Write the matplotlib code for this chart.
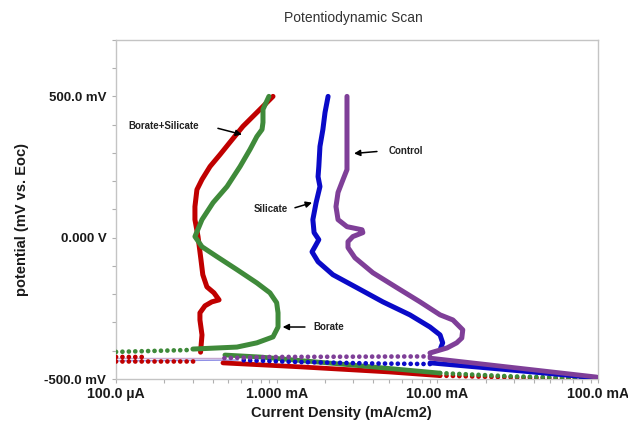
import numpy as np
import matplotlib
matplotlib.use('Agg')
import matplotlib.pyplot as plt
from matplotlib.ticker import FixedLocator, FixedFormatter, MultipleLocator, LogLocator, NullFormatter

plt.rcParams['font.family'] = ['Liberation Sans', 'DejaVu Sans']

nan = np.nan

# corrente em mA, potencial em mV vs. Eoc
# Borate+Silicate (vermelho)
red_an_I = [0.336, 0.343, 0.333, 0.333, 0.358, 0.395, 0.438, 0.407, 0.368, 0.347, 0.338,
            0.324, 0.310, 0.310, 0.319, 0.343, 0.385, 0.444, 0.511, 0.617, 0.753, 0.949]
red_an_E = [-405, -344, -291, -266, -241, -227, -220, -195, -174, -131, -78,
            4, 64, 110, 170, 206, 252, 294, 337, 394, 443, 500]
red_cat_I = [0.463, 1.4, 5.0, 10.4]
red_cat_E = [-443, -457, -475, -488]
red_dot_I = [10.4, 40, 92, nan, 0.10, 0.32, nan, 0.10, 0.15]
red_dot_E = [-488, -496, -500, nan, -438, -438, nan, -422, -422]

# Borate (verde)
green_an_I = [0.301, 0.566, 0.753, 0.949, 1.02, 1.02, 1.00, 0.908, 0.753, 0.566, 0.425, 0.343,
              0.310, 0.343, 0.402, 0.491, 0.592, 0.682, 0.753, 0.811, 0.822, 0.822, 0.895]
green_an_E = [-394, -387, -372, -351, -316, -266, -230, -195, -160, -113, -67, -32,
              4, 64, 124, 181, 252, 312, 358, 383, 408, 454, 500]
green_cat_I = [0.476, 0.787, 3.0, 10.4]
green_cat_E = [-415, -422, -451, -479]
green_dot_I = [10.4, 30, 85, nan, 0.10, 0.301]
green_dot_E = [-479, -491, -496, nan, -404, -397]

# Silicate (azul)
blue_an_I = [10.5, 10.8, 10.4, 9.0, 6.75, 4.58, 3.16, 2.24, 1.81, 1.66, 1.73, 1.83, 1.71,
             1.68, 1.76, 1.86, 1.81, 1.83, 1.86, 1.94, 2.0, 2.09]
blue_an_E = [-390, -372, -344, -316, -273, -227, -177, -131, -85, -50, -32, -7, 18,
             64, 124, 181, 216, 252, 323, 383, 443, 500]
blue_cat_I = [9.0, 24.5, 98.4]
blue_cat_E = [-443, -465, -496]
blue_dot_I = [9.0, 4.0, 1.4, 0.574]
blue_dot_E = [-447, -445, -440, -433]
blue_thin_I = [0.574, 0.10]
blue_thin_E = [-433, -436]

# Control (roxo)
purple_an_I = [9.0, 11.5, 13.2, 14.2, 14.4, 12.5, 10.4, 7.80, 5.61, 3.97, 3.07, 2.78, 2.78,
               2.98, 3.44, 3.40, 2.74, 2.41, 2.34, 2.41, 2.59, 2.74, 2.74, 2.74, 2.74, 2.74]
purple_an_E = [-408, -390, -372, -355, -326, -291, -273, -227, -177, -124, -71, -35, -14,
               4, 18, 28, 39, 64, 110, 160, 206, 241, 323, 383, 443, 500]
purple_cat_I = [9.0, 24.5, 98.4]
purple_cat_E = [-426, -454, -493]
purple_dot_I = [9.0, 0.908, 0.463]
purple_dot_E = [-420, -422, -426]
purple_thin_I = [0.463, 0.10]
purple_thin_E = [-426, -426]

x_ticks = [0.1, 1, 10, 100]
x_tick_labels = ['100.0 µA', '1.000 mA', '10.00 mA', '100.0 mA']
y_ticks = [-500, 0, 500]
y_tick_labels = ['-500.0 mV', '0.000 V', '500.0 mV']

series = [
    ('#c00000', red_an_I, red_an_E, red_cat_I, red_cat_E, red_dot_I, red_dot_E, None, None),
    ('#3f8a3a', green_an_I, green_an_E, green_cat_I, green_cat_E, green_dot_I, green_dot_E, None, None),
    ('#0a0ac8', blue_an_I, blue_an_E, blue_cat_I, blue_cat_E, blue_dot_I, blue_dot_E, blue_thin_I, blue_thin_E),
    ('#7f3f98', purple_an_I, purple_an_E, purple_cat_I, purple_cat_E, purple_dot_I, purple_dot_E, purple_thin_I, purple_thin_E),
]

fig = plt.figure(figsize=(6.28, 4.25), dpi=100)
ax = fig.add_axes([0.1847, 0.1082, 0.7675, 0.798])

for cor, aI, aE, cI, cE, dI, dE, tI, tE in series:
    if tI is not None:
        ax.plot(tI, tE, color=cor, lw=1.0, alpha=0.45, zorder=2)
    ax.plot(dI, dE, color=cor, lw=3.4, linestyle=(0, (0.01, 1.35)),
            dash_capstyle='round', zorder=3)
    ax.plot(cI, cE, color=cor, lw=3.4, solid_capstyle='round', solid_joinstyle='round', zorder=3)
    ax.plot(aI, aE, color=cor, lw=3.6, solid_capstyle='round', solid_joinstyle='round', zorder=3)

ax.set_xscale('log')
ax.set_xlim(0.1, 100)
ax.set_ylim(-500, 700)

ax.xaxis.set_major_locator(FixedLocator(x_ticks))
ax.xaxis.set_major_formatter(FixedFormatter(x_tick_labels))
ax.xaxis.set_minor_locator(LogLocator(base=10, subs=np.arange(2, 10)))
ax.xaxis.set_minor_formatter(NullFormatter())
ax.yaxis.set_major_locator(FixedLocator(y_ticks))
ax.yaxis.set_major_formatter(FixedFormatter(y_tick_labels))
ax.yaxis.set_minor_locator(MultipleLocator(100))

for s in ax.spines.values():
    s.set_color('#c4c4c4')
    s.set_linewidth(1.0)
ax.tick_params(which='both', direction='out', length=3, width=0.8, color='#b0b0b0')
ax.tick_params(axis='x', which='major', pad=2.5, labelsize=10.2, labelcolor='#1a1a1a')
ax.tick_params(axis='y', which='major', pad=4, labelsize=9.5, labelcolor='#1a1a1a')
for lbl in ax.get_xticklabels() + ax.get_yticklabels():
    lbl.set_fontweight('bold')

# títulos
fig.text(353 / 628, 1 - 18 / 425, 'Potentiodynamic Scan', ha='center', va='center',
         fontsize=10, color='#333333')
fig.text(341 / 628, 1 - 413 / 425, 'Current Density (mA/cm2)', ha='center', va='center',
         fontsize=10.5, fontweight='bold', color='#1a1a1a')
fig.text(22 / 628, 1 - 220 / 425, 'potential (mV vs. Eoc)', ha='center', va='center',
         rotation=90, fontsize=10.5, fontweight='bold', color='#1a1a1a')

# rótulos com seta
seta = dict(arrowstyle='-|>', color='black', lw=1.1, mutation_scale=9, shrinkA=0, shrinkB=0)
txt = dict(fontsize=7, fontweight='bold', color='#222222', va='center')
ax.annotate('', xy=(0.608, 365), xytext=(0.431, 387), arrowprops=seta)
ax.text(0.199, 397, 'Borate+Silicate', ha='center', **txt)
ax.annotate('', xy=(3.03, 298), xytext=(4.21, 305), arrowprops=seta)
ax.text(6.38, 308, 'Control', ha='center', **txt)
ax.annotate('', xy=(1.66, 124), xytext=(1.30, 106), arrowprops=seta)
ax.text(0.923, 103, 'Silicate', ha='center', **txt)
ax.annotate('', xy=(1.09, -316), xytext=(1.50, -316), arrowprops=seta)
ax.text(2.12, -316, 'Borate', ha='center', **txt)

fig.savefig('out.png', dpi=100)
